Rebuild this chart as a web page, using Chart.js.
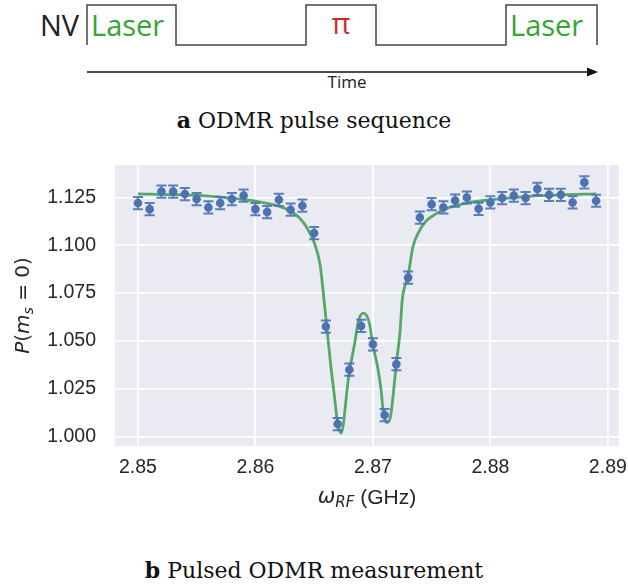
<!DOCTYPE html>
<html>
<head>
<meta charset="utf-8">
<script src="https://cdn.jsdelivr.net/npm/chart.js@4/dist/chart.umd.min.js"></script>
<style>
  body { margin: 0; background: #fff; width: 628px; height: 588px; position: relative; overflow: hidden; }
  #pulse { position: absolute; left: 0; top: 0; }
  #odmr { position: absolute; left: 0; top: 140px; }
  .cap { position: absolute; left: 0; width: 628px; text-align: center; font-family: "DejaVu Serif", serif; font-size: 22px; color: #111; }
</style>
</head>
<body>

<svg id="pulse" width="628" height="100" xmlns="http://www.w3.org/2000/svg">
  <path d="M87,45 L87,5 L176,5 L176,45 L306,45 L306,5 L376,5 L376,45 L506,45 L506,5 L597,5 L597,45"
        fill="none" stroke="#444" stroke-width="1.5"/>
  <g font-family="'Open Sans', sans-serif" font-size="29">
    <text x="40" y="36" fill="#222">NV</text>
    <text x="91" y="36" fill="#33a533">Laser</text>
    <text x="341" y="34" fill="#d62728" text-anchor="middle">π</text>
    <text x="510" y="36" fill="#33a533">Laser</text>
  </g>
  <line x1="87" y1="72" x2="590" y2="72" stroke="#111" stroke-width="1.3"/>
  <path d="M598,72 L587,67.5 L587,76.5 Z" fill="#111"/>
  <text x="347" y="88" font-family="'Open Sans', sans-serif" font-size="17" fill="#222" text-anchor="middle">Time</text>
</svg>
<div class="cap" style="top:107px"><b>a</b> ODMR pulse sequence</div>

<canvas id="odmr" width="628" height="400"></canvas>
<div class="cap" style="top:557px"><b>b</b> Pulsed ODMR measurement</div>

<script>
// measured populations, one point per MHz step
const freqs = [2.850, 2.851, 2.852, 2.853, 2.854, 2.855, 2.856, 2.857, 2.858, 2.859,
               2.860, 2.861, 2.862, 2.863, 2.864, 2.865, 2.866, 2.867, 2.868, 2.869,
               2.870, 2.871, 2.872, 2.873, 2.874, 2.875, 2.876, 2.877, 2.878, 2.879,
               2.880, 2.881, 2.882, 2.883, 2.884, 2.885, 2.886, 2.887, 2.888, 2.889];
const pm0 = [1.1221, 1.1189, 1.1281, 1.1281, 1.1268, 1.1242, 1.1198, 1.1221, 1.1242, 1.1260,
             1.1189, 1.1174, 1.1238, 1.1186, 1.1207, 1.1064, 1.0575, 1.0065, 1.0349, 1.0578,
             1.0482, 1.0112, 1.0378, 1.0831, 1.1145, 1.1215, 1.1198, 1.1234, 1.1250, 1.1191,
             1.1224, 1.1247, 1.1260, 1.1247, 1.1295, 1.1264, 1.1264, 1.1224, 1.1329, 1.1233];
const pm0Err = [0.0032, 0.0032, 0.0032, 0.0032, 0.0032, 0.0032, 0.0032, 0.0032, 0.0032, 0.0032,
                0.0032, 0.0032, 0.0032, 0.0032, 0.0032, 0.0032, 0.0032, 0.0032, 0.0032, 0.0032,
                0.0032, 0.0032, 0.0032, 0.0032, 0.0032, 0.0032, 0.0032, 0.0032, 0.0032, 0.0032,
                0.0032, 0.0032, 0.0032, 0.0032, 0.0032, 0.0032, 0.0032, 0.0032, 0.0032, 0.0032];

// double lorentzian fit, sampled
const fitFreqs = [2.8500, 2.8530, 2.8560, 2.8580, 2.8600, 2.8610, 2.8620, 2.8630, 2.8638, 2.8645,
                  2.8650, 2.8655, 2.8658, 2.8661, 2.8664, 2.8667, 2.8670, 2.8673, 2.8675, 2.8678,
                  2.8680, 2.8684, 2.8688, 2.8692, 2.8697, 2.8700, 2.8704, 2.8707, 2.8709, 2.8712,
                  2.8715, 2.8718, 2.8720, 2.8723, 2.8725, 2.8730, 2.8734, 2.8740, 2.8745, 2.8750,
                  2.8760, 2.8780, 2.8800, 2.8830, 2.8860, 2.8890];
const fitVals = [1.1269, 1.1265, 1.1257, 1.1246, 1.1231, 1.1219, 1.1204, 1.1178, 1.1140, 1.1080,
                 1.1015, 1.0900, 1.0740, 1.0560, 1.0380, 1.0226, 1.0069, 1.0017, 1.0069, 1.0243,
                 1.0339, 1.0470, 1.0610, 1.0645, 1.0592, 1.0479, 1.0365, 1.0243, 1.0121, 1.0072,
                 1.0103, 1.0260, 1.0383, 1.0540, 1.0714, 1.0840, 1.0990, 1.1080, 1.1125, 1.1150,
                 1.1186, 1.1221, 1.1238, 1.1255, 1.1264, 1.1269];

const xTicks = [2.85, 2.86, 2.87, 2.88, 2.89];
const yTicks = [1.000, 1.025, 1.050, 1.075, 1.100, 1.125];

const BLUE = '#4C72B0';
const GREEN = '#55A868';
const INK = '#262626';

// seaborn-ish panel background
const panelBg = {
    id: 'panelBg',
    beforeDraw(chart) {
        const { ctx, chartArea: a } = chart;
        ctx.save();
        ctx.fillStyle = '#EAEAF2';
        ctx.fillRect(a.left, a.top, a.right - a.left, a.bottom - a.top);
        ctx.restore();
    }
};

// vertical error bars with caps, drawn just before the markers
const errorBars = {
    id: 'errorBars',
    beforeDatasetDraw(chart, args) {
        if (args.index !== 0) return;
        const { ctx, scales: { x, y } } = chart;
        ctx.save();
        ctx.strokeStyle = 'rgba(76,114,176,0.9)';
        ctx.lineWidth = 2;
        freqs.forEach((f, i) => {
            const px = x.getPixelForValue(f);
            const top = y.getPixelForValue(pm0[i] + pm0Err[i]);
            const bot = y.getPixelForValue(pm0[i] - pm0Err[i]);
            ctx.beginPath();
            ctx.moveTo(px, top); ctx.lineTo(px, bot);
            ctx.moveTo(px - 5, top); ctx.lineTo(px + 5, top);
            ctx.moveTo(px - 5, bot); ctx.lineTo(px + 5, bot);
            ctx.stroke();
        });
        ctx.restore();
    }
};

// mixed-style text runs (italic symbols, subscripts)
function runWidth(ctx, parts) {
    return parts.reduce((w, p) => { ctx.font = p.font; return w + ctx.measureText(p.t).width; }, 0);
}
function drawRuns(ctx, parts, cx, cy, angle) {
    ctx.save();
    ctx.translate(cx, cy);
    ctx.rotate(angle);
    ctx.fillStyle = INK;
    ctx.textBaseline = 'middle';
    ctx.textAlign = 'left';
    let x = -runWidth(ctx, parts) / 2;
    parts.forEach(p => {
        ctx.font = p.font;
        ctx.fillText(p.t, x, p.dy || 0);
        x += ctx.measureText(p.t).width;
    });
    ctx.restore();
}

const axisTitles = {
    id: 'axisTitles',
    afterDraw(chart) {
        const { ctx, chartArea: a } = chart;
        const it = 'italic 20px "DejaVu Sans"', up = '20px "DejaVu Sans"', sub = 'italic 14px "DejaVu Sans"';
        drawRuns(ctx, [
            { t: 'P', font: it }, { t: '(', font: up }, { t: 'm', font: it },
            { t: 's', font: sub, dy: 5 }, { t: ' = 0)', font: up }
        ], 24, (a.top + a.bottom) / 2, -Math.PI / 2);
        drawRuns(ctx, [
            { t: 'ω', font: 'italic 21px "DejaVu Sans"' }, { t: 'RF', font: 'italic 15px "DejaVu Sans"', dy: 5 },
            { t: ' (GHz)', font: '21px "Liberation Sans"' }
        ], (a.left + a.right) / 2, 358, 0);
    }
};

const ctx = document.getElementById('odmr').getContext('2d');

new Chart(ctx, {
    type: 'scatter',
    data: {
        datasets: [
            {
                label: 'data',
                data: freqs.map((f, i) => ({ x: f, y: pm0[i] })),
                backgroundColor: BLUE,
                borderColor: BLUE,
                pointRadius: 4.3,
                pointBorderWidth: 0,
                order: 1
            },
            {
                label: 'fit',
                type: 'line',
                data: fitFreqs.map((f, i) => ({ x: f, y: fitVals[i] })),
                borderColor: GREEN,
                borderWidth: 2.8,
                pointRadius: 0,
                cubicInterpolationMode: 'monotone',
                fill: false,
                order: 2
            }
        ]
    },
    options: {
        responsive: false,
        animation: false,
        devicePixelRatio: 1,
        layout: { padding: { top: 25, right: 9, left: 0, bottom: 0 } },
        plugins: { legend: { display: false }, tooltip: { enabled: false } },
        scales: {
            x: {
                type: 'linear',
                min: 2.84805,
                max: 2.89095,
                afterFit: s => { s.height = 94; s.paddingLeft = 0; s.paddingRight = 0; },
                afterBuildTicks: s => { s.ticks = xTicks.map(v => ({ value: v })); },
                grid: { color: '#fff', lineWidth: 1.8, drawTicks: false },
                border: { display: false },
                ticks: {
                    padding: 10,
                    color: INK,
                    font: { family: 'Liberation Sans', size: 19.5 },
                    callback: v => v.toFixed(2)
                }
            },
            y: {
                type: 'linear',
                min: 0.995,
                max: 1.142,
                afterFit: s => { s.width = 115; s.paddingTop = 0; s.paddingBottom = 0; },
                afterBuildTicks: s => { s.ticks = yTicks.map(v => ({ value: v })); },
                grid: { color: '#fff', lineWidth: 1.8, drawTicks: false },
                border: { display: false },
                ticks: {
                    padding: 19,
                    color: INK,
                    font: { family: 'Liberation Sans', size: 19.5 },
                    callback: v => v.toFixed(3)
                }
            }
        }
    },
    plugins: [panelBg, errorBars, axisTitles]
});
</script>
</body>
</html>
